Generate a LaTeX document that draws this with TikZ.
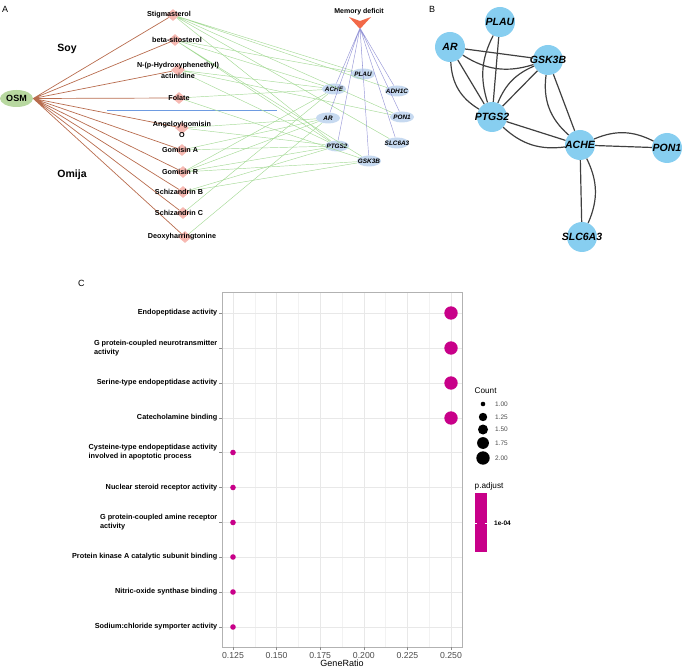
\documentclass[tikz,border=0pt]{standalone}
\usepackage{fontspec}
\setmainfont{Liberation Sans}
\usetikzlibrary{shapes.geometric,positioning,calc}
\definecolor{osmgreen}{RGB}{184,216,160}
\definecolor{cmppink}{RGB}{247,185,178}
\definecolor{tgtblue}{RGB}{198,217,240}
\definecolor{brownedge}{RGB}{184,108,78}
\definecolor{greenedge}{RGB}{165,218,150}
\definecolor{purpleedge}{RGB}{150,150,215}
\definecolor{sepblue}{RGB}{110,155,225}
\definecolor{mdred}{RGB}{242,105,72}
\definecolor{ppiblue}{RGB}{135,206,240}
\definecolor{dotmag}{RGB}{200,0,137}

\begin{document}
\begin{tikzpicture}[
  x=1pt, y=-1pt,
  panel/.style={font=\fontsize{9}{10}\selectfont, anchor=west, inner sep=0pt},
  grp/.style={font=\bfseries\fontsize{10.5}{12}\selectfont},
  cmp/.style={diamond, fill=cmppink, inner sep=0pt, minimum width=14pt, minimum height=12pt},
  cmplab/.style={font=\bfseries\fontsize{7.2}{11}\selectfont, align=center, inner sep=0pt},
  tgt/.style={ellipse, fill=tgtblue, inner sep=0pt, minimum width=24pt, minimum height=11pt,
    label={[font=\bfseries\itshape\fontsize{6.4}{7}\selectfont, inner sep=0pt]center:#1}},
  ce/.style={brownedge, line width=0.7pt},
  ge/.style={greenedge, line width=0.45pt},
  me/.style={purpleedge, line width=0.45pt},
  ppi/.style={circle, fill=ppiblue, inner sep=0pt, minimum size=30pt,
    label={[font=\bfseries\itshape\fontsize{10.5}{12}\selectfont, inner sep=0pt]center:#1}},
  pe/.style={draw=black!75, line width=1.2pt},
  term/.style={font=\bfseries\fontsize{7.3}{9}\selectfont, align=left, anchor=east, inner sep=0pt},
  axlab/.style={font=\fontsize{8.7}{10}\selectfont, text=black!70, inner sep=0pt},
  leglab/.style={font=\fontsize{6.5}{8}\selectfont, text=black!70, anchor=west, inner sep=0pt},
  legtitle/.style={font=\fontsize{8.2}{10}\selectfont, anchor=west, inner sep=0pt}
]
  \useasboundingbox (0,0) rectangle (685,668);

  % ---------- A: compound-target network ----------
  \node[panel] (pa) at (2,9) {A};
  \node[ellipse, fill=osmgreen, inner sep=0pt, minimum width=33pt, minimum height=17pt,
    font=\bfseries\fontsize{9}{10}\selectfont] (osm) at (16.5,98.5) {OSM};
  \node[grp] (soy) at (67,49) {Soy};
  \node[grp] (omija) at (72,175) {Omija};

  % compounds
  \node[cmp] (stig) at (173,15) {};
  \node[cmp] (beta) at (175,40) {};
  \node[cmp] (nph)  at (178,70) {};
  \node[cmp] (fol)  at (179,98) {};
  \node[cmp] (ang)  at (182,128) {};
  \node[cmp] (goma) at (182,150) {};
  \node[cmp] (gomr) at (183,172) {};
  \node[cmp] (schb) at (183,192) {};
  \node[cmp] (schc) at (183,213) {};
  \node[cmp] (deox) at (185,237) {};

  % targets
  \node[tgt=PLAU]   (plau) at (363,74) {};
  \node[tgt=ACHE]   (ache) at (334,89) {};
  \node[tgt=ADH1C]  (adh)  at (397,91) {};
  \node[tgt=AR]     (ar)   at (328,118) {};
  \node[tgt=PON1]   (pon)  at (402,117) {};
  \node[tgt=PTGS2]  (ptgs) at (337,146) {};
  \node[tgt=SLC6A3] (slc)  at (397,143) {};
  \node[tgt=GSK3B]  (gsk)  at (369,161) {};

  % memory deficit
  \fill[mdred] (349,17) -- (360,21) -- (371,17) -- (360,29) -- cycle;
  \coordinate (md) at (360,28);
  \node[font=\bfseries\fontsize{7}{8}\selectfont, inner sep=0pt] (mdlab) at (359,12) {Memory deficit};

  % separator
  \draw[sepblue, line width=0.6pt] (107,110) -- (277,110);

  % OSM to compounds
  \draw[ce] (osm.east) -- (stig) (osm.east) -- (beta) (osm.east) -- (nph)
    (osm.east) -- (fol) (osm.east) -- (ang) (osm.east) -- (goma)
    (osm.east) -- (gomr) (osm.east) -- (schb) (osm.east) -- (schc)
    (osm.east) -- (deox);

  % compounds to targets
  \draw[ge] (stig) -- (plau) (stig) -- (adh) (stig) -- (slc) (stig) -- (ptgs) (stig) -- (pon);
  \draw[ge] (beta) -- (plau) (beta) -- (ache) (beta) -- (ptgs) (beta) -- (gsk);
  \draw[ge] (nph) -- (ache) (nph) -- (pon) (nph) -- (ptgs);
  \draw[ge] (fol) -- (ache) (fol) -- (gsk);
  \draw[ge] (ang) -- (ar) (ang) -- (ptgs);
  \draw[ge] (goma) -- (ar) (goma) -- (ptgs);
  \draw[ge] (gomr) -- (ache) (gomr) -- (ar) (gomr) -- (ptgs) (gomr) -- (gsk);
  \draw[ge] (schb) -- (ptgs) (schb) -- (gsk);
  \draw[ge] (schc) -- (ache);
  \draw[ge] (deox) -- (ar);

  % memory deficit to targets
  \draw[me] (md) -- (plau) (md) -- (ache) (md) -- (adh) (md) -- (ar)
    (md) -- (pon) (md) -- (ptgs) (md) -- (slc) (md) -- (gsk);

  % compound labels on top
  \node[cmplab] at (stig) [xshift=-4pt] {Stigmasterol};
  \node[cmplab] at (beta) [xshift=2pt] {beta-sitosterol};
  \node[cmplab] at (nph) {N-(p-Hydroxyphenethyl)\\actinidine};
  \node[cmplab] at (fol) {Folate};
  \node[cmplab] at (ang) [yshift=-1.5pt] {Angeloylgomisin\\O};
  \node[cmplab] at (goma) [xshift=-2pt] {Gomisin A};
  \node[cmplab] at (gomr) [xshift=-3pt] {Gomisin R};
  \node[cmplab] at (schb) [xshift=-4pt] {Schizandrin B};
  \node[cmplab] at (schc) [xshift=-4pt] {Schizandrin C};
  \node[cmplab] at (deox) [xshift=-3pt] {Deoxyharringtonine};

  % ---------- B: PPI network ----------
  \node[panel] (pb) at (429,9) {B};
  \node[ppi=PLAU]   (bplau) at (500,22) {};
  \node[ppi=AR]     (bar)   at (450,47) {};
  \node[ppi=GSK3B]  (bgsk)  at (548,60) {};
  \node[ppi=PTGS2]  (bptgs) at (492,117) {};
  \node[ppi=ACHE]   (bache) at (580,145) {};
  \node[ppi=PON1]   (bpon)  at (667,148) {};
  \node[ppi=SLC6A3] (bslc)  at (582,237) {};

  \draw[pe] (bplau) -- (bptgs);
  \draw[pe] (bplau) to[bend right=22] (bptgs);
  \draw[pe] (bar) -- (bgsk);
  \draw[pe] (bar) to[bend right=25] (bgsk);
  \draw[pe] (bar) -- (bptgs);
  \draw[pe] (bar) to[bend right=28] (bptgs);
  \draw[pe] (bgsk) -- (bptgs);
  \draw[pe] (bgsk) to[bend right=22] (bptgs);
  \draw[pe] (bgsk) -- (bache);
  \draw[pe] (bgsk) to[bend right=28] (bache);
  \draw[pe] (bptgs) -- (bache);
  \draw[pe] (bptgs) to[bend right=25] (bache);
  \draw[pe] (bache) -- (bpon);
  \draw[pe] (bache) to[bend left=25] (bpon);
  \draw[pe] (bache) -- (bslc);
  \draw[pe] (bache) to[bend left=25] (bslc);

  % ---------- C: GO enrichment dot plot ----------
  \node[panel] (pc) at (78,283) {C};

  % grid
  \fill[white] (222,292) rectangle (462,647);
  \draw[black!5, line width=0.4pt]
    (254.8,292) -- (254.8,647) (298.4,292) -- (298.4,647) (342,292) -- (342,647)
    (385.6,292) -- (385.6,647) (429.2,292) -- (429.2,647);
  \draw[black!9, line width=0.6pt]
    (233,292) -- (233,647) (276.6,292) -- (276.6,647) (320.2,292) -- (320.2,647)
    (363.8,292) -- (363.8,647) (407.4,292) -- (407.4,647) (451,292) -- (451,647);
  \draw[black!9, line width=0.6pt]
    (222,313) -- (462,313) (222,348) -- (462,348) (222,383) -- (462,383)
    (222,418) -- (462,418) (222,452.5) -- (462,452.5) (222,487.5) -- (462,487.5)
    (222,522.5) -- (462,522.5) (222,557) -- (462,557) (222,592) -- (462,592)
    (222,627) -- (462,627);
  \draw[black!30, line width=0.9pt] (222,292) rectangle (462,647);

  % axis ticks
  \draw[black!45, line width=0.5pt]
    (219,313) -- (222,313) (219,348) -- (222,348) (219,383) -- (222,383)
    (219,418) -- (222,418) (219,452.5) -- (222,452.5) (219,487.5) -- (222,487.5)
    (219,522.5) -- (222,522.5) (219,557) -- (222,557) (219,592) -- (222,592)
    (219,627) -- (222,627);
  \draw[black!45, line width=0.5pt]
    (233,647) -- (233,650) (276.6,647) -- (276.6,650) (320.2,647) -- (320.2,650)
    (363.8,647) -- (363.8,650) (407.4,647) -- (407.4,650) (451,647) -- (451,650);

  % x labels
  \node[axlab] (x1) at (233,655.5) {0.125};
  \node[axlab] (x2) at (276.6,655.5) {0.150};
  \node[axlab] (x3) at (320.2,655.5) {0.175};
  \node[axlab] (x4) at (363.8,655.5) {0.200};
  \node[axlab] (x5) at (407.4,655.5) {0.225};
  \node[axlab] (x6) at (451,655.5) {0.250};
  \node[font=\fontsize{9}{10}\selectfont, inner sep=0pt] (xt) at (342,663) {GeneRatio};

  % terms
  \node[term] (t1) at (217.5,313) {Endopeptidase activity};
  \node[term] (t2) at (217.5,348) {G protein-coupled neurotransmitter\\activity};
  \node[term] (t3) at (217.5,383) {Serine-type endopeptidase activity};
  \node[term] (t4) at (217.5,418) {Catecholamine binding};
  \node[term] (t5) at (217.5,452.5) {Cysteine-type endopeptidase activity\\involved in apoptotic process};
  \node[term] (t6) at (217.5,487.5) {Nuclear steroid receptor activity};
  \node[term] (t7) at (217.5,522.5) {G protein-coupled amine receptor\\activity};
  \node[term] (t8) at (217.5,557) {Protein kinase A catalytic subunit binding};
  \node[term] (t9) at (217.5,592) {Nitric-oxide synthase binding};
  \node[term] (t10) at (217.5,627) {Sodium:chloride symporter activity};

  % dots
  \fill[dotmag] (451,313) circle (6.7pt) (451,348) circle (6.7pt)
    (451,383) circle (6.7pt) (451,418) circle (6.7pt);
  \fill[dotmag] (233,452.5) circle (2.8pt) (233,487.5) circle (2.8pt)
    (233,522.5) circle (2.8pt) (233,557) circle (2.8pt) (233,592) circle (2.8pt)
    (233,627) circle (2.8pt);

  % legend: Count
  \node[legtitle] (lc) at (474.5,391) {Count};
  \fill[black] (483,404) circle (2.3pt) (483,417) circle (4.2pt) (483,429.5) circle (5pt)
    (483,443) circle (5.9pt) (483,458) circle (6.7pt);
  \node[leglab] (c1) at (495,404) {1.00};
  \node[leglab] (c2) at (495,417) {1.25};
  \node[leglab] (c3) at (495,429.5) {1.50};
  \node[leglab] (c4) at (495,443) {1.75};
  \node[leglab] (c5) at (495,458) {2.00};

  % legend: p.adjust
  \node[legtitle] (lp) at (474.5,486) {p.adjust};
  \fill[dotmag] (474.5,493) rectangle (487,552);
  \draw[white, line width=0.4pt] (474.5,523) -- (477,523) (484.5,523) -- (487,523);
  \node[leglab, font=\bfseries\fontsize{6.5}{8}\selectfont, text=black] (pv) at (494,523) {1e-04};
\end{tikzpicture}
\end{document}
